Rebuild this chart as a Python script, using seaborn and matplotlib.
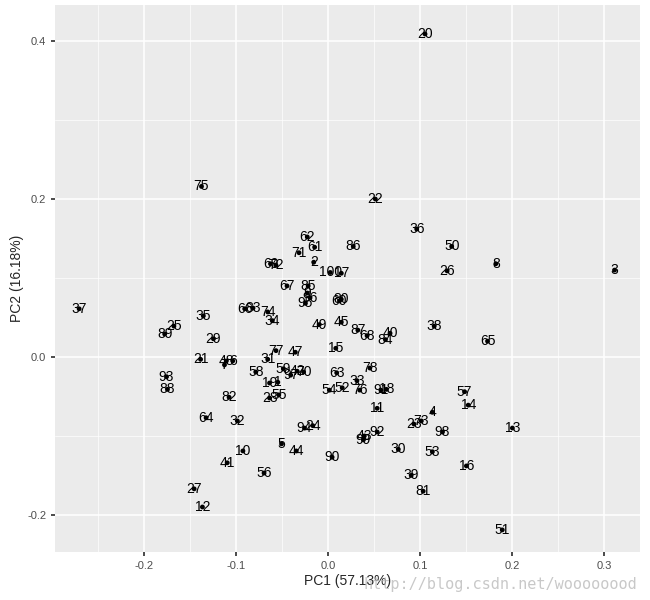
import matplotlib
matplotlib.use("Agg")
import matplotlib.pyplot as plt
import seaborn as sns
import pandas as pd

labels = ["37","75","22","20","36","50","26","8","3","62","61","71","2","86","69","72","100","17",
          "67","85","9","96","95","80","60","66","83","74","34","35","25","89","29","49","45","87","68",
          "40","84","38","65","21","48","7","6","31","77","47","15","58","59","97","42","70","63","78",
          "93","88","19","1","28","55","54","52","33","76","91","18","11","23","73","4","57","14","13",
          "92","43","99","94","24","5","44","90","30","53","98","16","39","81","10","41","56","64","32",
          "82","27","12","51"]
pc1 = [-0.271,-0.138,0.051,0.105,0.096,0.134,0.129,0.182,0.311,-0.023,-0.015,-0.032,-0.016,0.027,-0.063,-0.057,0.002,0.014,
       -0.045,-0.022,-0.023,-0.020,-0.025,0.014,0.012,-0.091,-0.082,-0.066,-0.061,-0.136,-0.168,-0.178,-0.125,-0.010,0.014,0.032,0.042,
       0.067,0.062,0.115,0.173,-0.139,-0.111,-0.113,-0.104,-0.066,-0.057,-0.036,0.008,-0.079,-0.049,-0.041,-0.034,-0.027,0.009,0.045,
       -0.176,-0.175,-0.064,-0.055,-0.064,-0.054,0.001,0.015,0.031,0.034,0.057,0.063,0.053,0.093,0.101,0.113,0.148,0.152,0.200,
       0.053,0.039,0.038,-0.026,-0.017,-0.051,-0.035,0.004,0.076,0.113,0.124,0.150,0.090,0.103,-0.093,-0.110,-0.070,-0.133,-0.099,
       -0.108,-0.146,-0.137,0.189]
pc2 = [0.061,0.216,0.200,0.409,0.162,0.140,0.109,0.118,0.110,0.152,0.139,0.132,0.120,0.140,0.118,0.116,0.107,0.106,
       0.090,0.090,0.081,0.075,0.068,0.073,0.071,0.061,0.062,0.057,0.046,0.052,0.039,0.029,0.023,0.041,0.044,0.034,0.027,
       0.030,0.022,0.039,0.020,-0.003,-0.005,-0.010,-0.005,-0.003,0.008,0.006,0.011,-0.019,-0.015,-0.023,-0.018,-0.019,-0.020,-0.014,
       -0.025,-0.041,-0.033,-0.032,-0.052,-0.048,-0.042,-0.039,-0.030,-0.042,-0.042,-0.041,-0.065,-0.085,-0.081,-0.070,-0.044,-0.061,-0.090,
       -0.095,-0.100,-0.105,-0.090,-0.087,-0.110,-0.119,-0.127,-0.117,-0.120,-0.095,-0.138,-0.150,-0.170,-0.119,-0.134,-0.147,-0.077,-0.081,
       -0.051,-0.167,-0.190,-0.219]

df = pd.DataFrame({"PC1": pc1, "PC2": pc2, "label": labels})

sns.set_theme(style="darkgrid", rc={"axes.facecolor": "#EBEBEB", "grid.color": "white"})
plt.rcParams["font.family"] = ["Liberation Sans", "DejaVu Sans"]
fig = plt.figure(figsize=(6.5, 6.0), dpi=100)
ax = fig.add_axes([0.085, 0.08, 0.90, 0.912])
sns.scatterplot(data=df, x="PC1", y="PC2", color="black", s=12, edgecolor="none", ax=ax, zorder=3)
for x, y, t in zip(pc1, pc2, labels):
    ax.text(x, y, t, ha="center", va="center", fontsize=10, color="black", zorder=4)
ax.set_xlim(-0.297, 0.339)
ax.set_ylim(-0.247, 0.446)
ax.set_xticks([-0.2, -0.1, 0.0, 0.1, 0.2, 0.3])
ax.set_xticklabels(["-0.2", "-0.1", "0.0", "0.1", "0.2", "0.3"])
ax.set_yticks([-0.2, 0.0, 0.2, 0.4])
ax.set_yticklabels(["-0.2", "0.0", "0.2", "0.4"])
ax.set_xticks([-0.25, -0.15, -0.05, 0.05, 0.15, 0.25], minor=True)
ax.set_yticks([-0.1, 0.1, 0.3], minor=True)
ax.grid(which="major", color="white", linewidth=1.1)
ax.grid(which="minor", color="white", linewidth=0.5)
ax.tick_params(axis="both", which="major", labelsize=8, labelcolor="#4D4D4D", length=3, color="#333333", bottom=True, left=True)
ax.tick_params(which="minor", length=0)
for s in ax.spines.values():
    s.set_visible(False)
ax.set_xlabel("PC1 (57.13%)", fontsize=10, labelpad=2)
ax.set_ylabel("PC2 (16.18%)", fontsize=10, labelpad=2)
fig.text(0.98, 0.025, "http://blog.csdn.net/woooooood", ha="right", va="center",
         fontsize=11, color="#BBBBBB", family="DejaVu Sans Mono", alpha=0.8)
fig.savefig("out.png", dpi=100)
